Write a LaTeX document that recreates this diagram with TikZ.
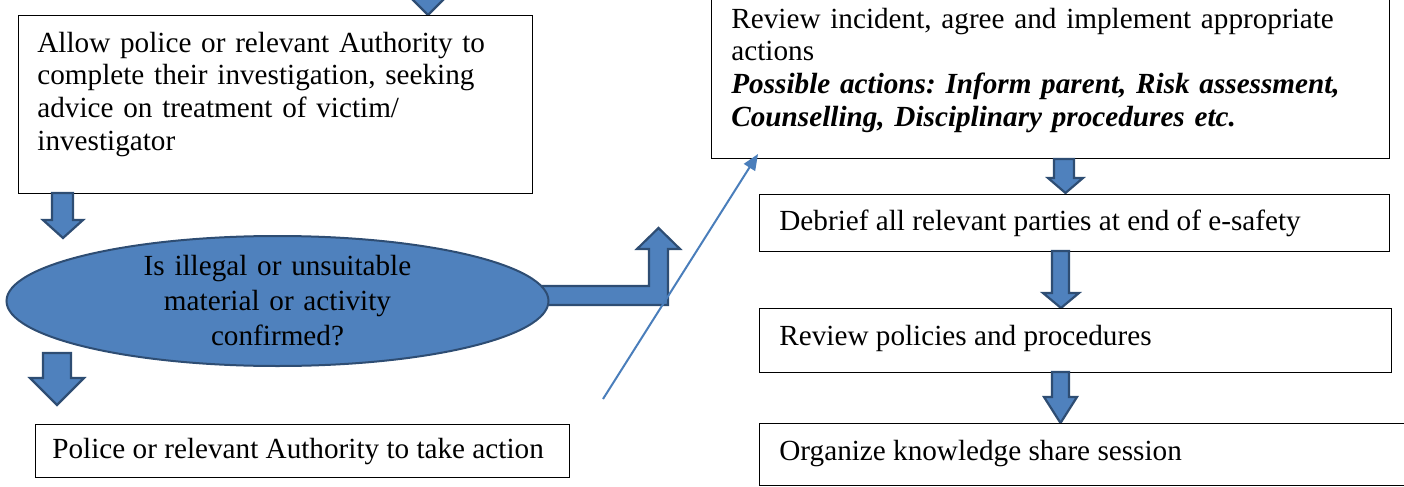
\documentclass[tikz,border=0pt]{standalone}
\usepackage{fontspec}
\setmainfont{Liberation Serif}
\usetikzlibrary{arrows.meta}
\definecolor{blufill}{HTML}{4F81BD}
\definecolor{bluedge}{HTML}{2E4D73}
\definecolor{blueline}{HTML}{4A7EBB}
\tikzset{
  box/.style={draw=black, line width=0.7pt, fill=white, inner sep=0pt},
  txt/.style={font=\frenchspacing\fontsize{14.6}{16.4}\selectfont, inner sep=0pt, align=left},
  blk/.style={fill=blufill, draw=bluedge, line width=1.1pt, line join=miter},
  thinarrow/.style={draw=blueline, line width=1pt, -{Triangle[length=8pt,width=6.5pt]}}
}
\begin{document}
\begin{tikzpicture}[x=0.5pt,y=-0.5pt]
\useasboundingbox (0,0) rectangle (1404,487);
\clip (0,0) rectangle (1404,487);
% top-left incoming arrow (only head visible)
\draw[blk] (419,-30) -- (419,-3) -- (410,-3) -- (428,15) -- (446,-3) -- (437,-3) -- (437,-30);
% left box
\node[box, minimum width=257pt, minimum height=89pt, anchor=north west] (b1) at (18,15) {};
\node[txt, anchor=base west, text width=250pt] (b1t) at (37,52) {Allow police or relevant Authority to\\complete their investigation, seeking\\advice on treatment of victim/\\investigator};
% arrow box -> ellipse
\draw[blk] (52,193) -- (52,220) -- (43,220) -- (63,238) -- (83,220) -- (73,220) -- (73,193) -- cycle;
% bent arrow
\draw[blk] (530,286) -- (649,286) -- (649,249) -- (637,249) -- (658.5,228) -- (680,249) -- (668,249) -- (668,305) -- (530,305) -- cycle;
% ellipse
\draw[fill=blufill, draw=bluedge, line width=1pt] (277.5,301) ellipse [x radius=271, y radius=65];
\node[txt, font=\frenchspacing\fontsize{14.6}{17.5}\selectfont, align=center, text width=200pt, anchor=base] (q) at (277.5,275) {Is illegal or unsuitable\\material or activity\\confirmed?};
% arrow ellipse -> police
\draw[blk] (43,353) -- (43,378) -- (30,378) -- (57,405) -- (84,378) -- (71,378) -- (71,353) -- cycle;
% police box
\node[box, minimum width=267pt, minimum height=26.5pt, anchor=north west] (b2) at (35,424) {};
\node[txt, anchor=base west] (b2t) at (52,458) {Police or relevant Authority to take action};
% top-right box
\node[box, minimum width=339pt, minimum height=89pt, anchor=south west] (b3) at (711,159) {};
\node[txt, anchor=base west, text width=335pt] (b3t) at (731,28) {Review incident, agree and implement appropriate\\actions\\\textbf{\textit{Possible actions: Inform parent, Risk assessment,}}\\\textbf{\textit{Counselling, Disciplinary procedures etc.}}};
% thin arrow
\coordinate (ts) at (603,399);
\coordinate (te) at (758,154);
\draw[thinarrow] (ts) -- (te);
% arrow -> debrief
\draw[blk] (1054,159) -- (1054,178) -- (1048,178) -- (1065.5,193) -- (1083,178) -- (1074,178) -- (1074,159) -- cycle;
\node[box, minimum width=315pt, minimum height=28.5pt, anchor=north west] (b4) at (759,194) {};
\node[txt, anchor=base west] (b4t) at (779,230) {Debrief all relevant parties at end of e-safety};
% arrow -> review
\draw[blk] (1052,251) -- (1052,293) -- (1043,293) -- (1061,308) -- (1079,293) -- (1069,293) -- (1069,251) -- cycle;
\node[box, minimum width=316pt, minimum height=32pt, anchor=north west] (b5) at (759,308) {};
\node[txt, anchor=base west] (b5t) at (779,345) {Review policies and procedures};
% arrow -> organize
\draw[blk] (1052,372) -- (1052,397) -- (1044,397) -- (1060.5,423) -- (1077,397) -- (1069,397) -- (1069,372) -- cycle;
\node[box, minimum width=330pt, minimum height=31pt, anchor=north west] (b6) at (759,423) {};
\node[txt, anchor=base west] (b6t) at (779,460) {Organize knowledge share session};
\end{tikzpicture}
\end{document}
